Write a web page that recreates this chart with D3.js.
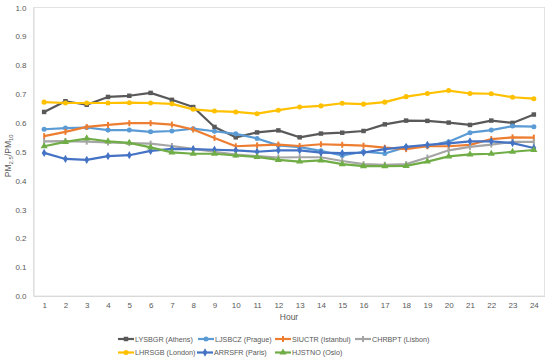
<!DOCTYPE html>
<html>
<head>
<meta charset="utf-8">
<script src="https://cdnjs.cloudflare.com/ajax/libs/d3/7.8.5/d3.min.js"></script>
<style>
  body { margin: 0; background: #fff; }
  text { font-family: "Liberation Sans", Arial, sans-serif; fill: #595959; }
</style>
</head>
<body>
<svg id="chart"></svg>
<script>
// ---- DATA ---- //
const hours = d3.range(1, 25);
const yTicks = [0, 0.1, 0.2, 0.3, 0.4, 0.5, 0.6, 0.7, 0.8, 0.9, 1.0];

const athens   = [0.638, 0.675, 0.663, 0.690, 0.694, 0.704, 0.680, 0.655, 0.586, 0.550, 0.567, 0.574, 0.550, 0.563, 0.566, 0.572, 0.595, 0.608, 0.607, 0.601, 0.593, 0.608, 0.600, 0.629];
const prague   = [0.578, 0.582, 0.584, 0.575, 0.575, 0.569, 0.572, 0.580, 0.571, 0.562, 0.546, 0.522, 0.516, 0.503, 0.487, 0.500, 0.494, 0.516, 0.520, 0.535, 0.566, 0.575, 0.589, 0.587];
const istanbul = [0.554, 0.569, 0.586, 0.593, 0.599, 0.599, 0.594, 0.577, 0.548, 0.519, 0.522, 0.525, 0.520, 0.526, 0.524, 0.521, 0.514, 0.509, 0.519, 0.519, 0.524, 0.544, 0.550, 0.549];
const lisbon   = [0.536, 0.537, 0.535, 0.532, 0.530, 0.528, 0.520, 0.510, 0.500, 0.490, 0.485, 0.480, 0.481, 0.481, 0.468, 0.457, 0.455, 0.457, 0.480, 0.505, 0.517, 0.525, 0.534, 0.534];
const london   = [0.672, 0.669, 0.669, 0.669, 0.670, 0.669, 0.666, 0.647, 0.641, 0.638, 0.632, 0.644, 0.655, 0.659, 0.668, 0.665, 0.672, 0.691, 0.702, 0.712, 0.702, 0.701, 0.689, 0.684];
const paris    = [0.496, 0.475, 0.472, 0.485, 0.488, 0.503, 0.510, 0.509, 0.507, 0.505, 0.500, 0.505, 0.505, 0.497, 0.495, 0.497, 0.509, 0.517, 0.524, 0.529, 0.536, 0.536, 0.530, 0.513];
const oslo     = [0.519, 0.534, 0.546, 0.536, 0.531, 0.515, 0.498, 0.493, 0.493, 0.487, 0.482, 0.472, 0.466, 0.470, 0.457, 0.450, 0.450, 0.451, 0.466, 0.484, 0.491, 0.493, 0.500, 0.506];

const series = [
  {name: "LYSBGR (Athens)",   values: athens,   color: "#595959", symbol: d3.symbolSquare,   lx: 118, row: 0},
  {name: "LJSBCZ (Prague)",   values: prague,   color: "#5B9BD5", symbol: d3.symbolCircle,   lx: 198, row: 0},
  {name: "SIUCTR (Istanbul)", values: istanbul, color: "#ED7D31", symbol: "bar",             lx: 275, row: 0},
  {name: "CHRBPT (Lisbon)",   values: lisbon,   color: "#A5A5A5", symbol: "bar",             lx: 355, row: 0},
  {name: "LHRSGB (London)",   values: london,   color: "#FFC000", symbol: d3.symbolCircle,   lx: 118, row: 1},
  {name: "ARRSFR (Paris)",    values: paris,    color: "#4472C4", symbol: d3.symbolDiamond,  lx: 197, row: 1},
  {name: "HJSTNO (Oslo)",     values: oslo,     color: "#70AD47", symbol: d3.symbolTriangle, lx: 275, row: 1}
];

// ---- THE CHART ---- //
const W = 550, H = 363;
const plot = {left: 33.5, right: 544.5, top: 7.5, bottom: 296};

const svg = d3.select("#chart")
  .attr("width", W)
  .attr("height", H);

const x = d3.scalePoint()
  .domain(hours)
  .range([plot.left, plot.right])
  .padding(0.5);

const y = d3.scaleLinear()
  .domain([0, 1])
  .range([plot.bottom, plot.top]);

// plot area border
svg.append("rect")
  .attr("x", plot.left)
  .attr("y", plot.top)
  .attr("width", plot.right - plot.left)
  .attr("height", plot.bottom - plot.top)
  .attr("fill", "none")
  .attr("stroke", "#e3e3e3")
  .attr("stroke-width", 1);

// y axis
const yAxis = svg.append("g")
  .attr("transform", "translate(" + plot.left + ",0)")
  .call(d3.axisLeft(y).tickValues(yTicks).tickFormat(d3.format(".1f")).tickSize(0).tickPadding(7));
yAxis.select(".domain").attr("stroke", "#d9d9d9");
yAxis.selectAll("text").style("font-size", "8px").style("fill", "#595959");

// x axis
const xAxis = svg.append("g")
  .attr("transform", "translate(0," + plot.bottom + ")")
  .call(d3.axisBottom(x).tickSize(0).tickPadding(6));
xAxis.select(".domain").attr("stroke", "#d9d9d9");
xAxis.selectAll("text").style("font-size", "8px").style("fill", "#595959");

// axis titles
svg.append("text")
  .attr("x", (plot.left + plot.right) / 2)
  .attr("y", 320)
  .attr("text-anchor", "middle")
  .style("font-size", "8.5px")
  .text("Hour");

const yTitle = svg.append("text")
  .attr("transform", "translate(11," + ((plot.top + plot.bottom) / 2 + 4) + ") rotate(-90)")
  .attr("text-anchor", "middle")
  .style("font-size", "8.5px");
yTitle.append("tspan").text("PM");
yTitle.append("tspan").attr("dy", 2).style("font-size", "6px").text("2.5");
yTitle.append("tspan").attr("dy", -2).text("/PM");
yTitle.append("tspan").attr("dy", 2).style("font-size", "6px").text("10");

// marker helper
function marker(sel, s) {
  if (s.symbol === "bar") {
    sel.append("path")
      .attr("d", "M-1,-3V3H1V-3Z")
      .attr("fill", s.color);
  } else {
    sel.append("path")
      .attr("d", d3.symbol().type(s.symbol).size(s.symbol === d3.symbolTriangle ? 22 : 20)())
      .attr("fill", s.color);
  }
}

const line = d3.line()
  .x((d, i) => x(hours[i]))
  .y(d => y(d));

// series lines and markers
series.forEach(s => {
  const g = svg.append("g");
  g.append("path")
    .attr("d", line(s.values))
    .attr("fill", "none")
    .attr("stroke", s.color)
    .attr("stroke-width", 2.2)
    .attr("stroke-linejoin", "round");
  s.values.forEach((v, i) => {
    const m = g.append("g").attr("transform", "translate(" + x(hours[i]) + "," + y(v) + ")");
    marker(m, s);
  });
});

// ---- LEGEND ---- //
const rowY = [339, 352.5];
series.forEach(s => {
  const g = svg.append("g")
    .attr("transform", "translate(" + s.lx + "," + rowY[s.row] + ")");
  g.append("line")
    .attr("x1", 0).attr("x2", 16)
    .attr("stroke", s.color)
    .attr("stroke-width", 2.2);
  marker(g.append("g").attr("transform", "translate(8,0)"), s);
  g.append("text")
    .attr("x", 17)
    .attr("y", 2.6)
    .style("font-size", "7.2px")
    .text(s.name);
});
</script>
</body>
</html>
